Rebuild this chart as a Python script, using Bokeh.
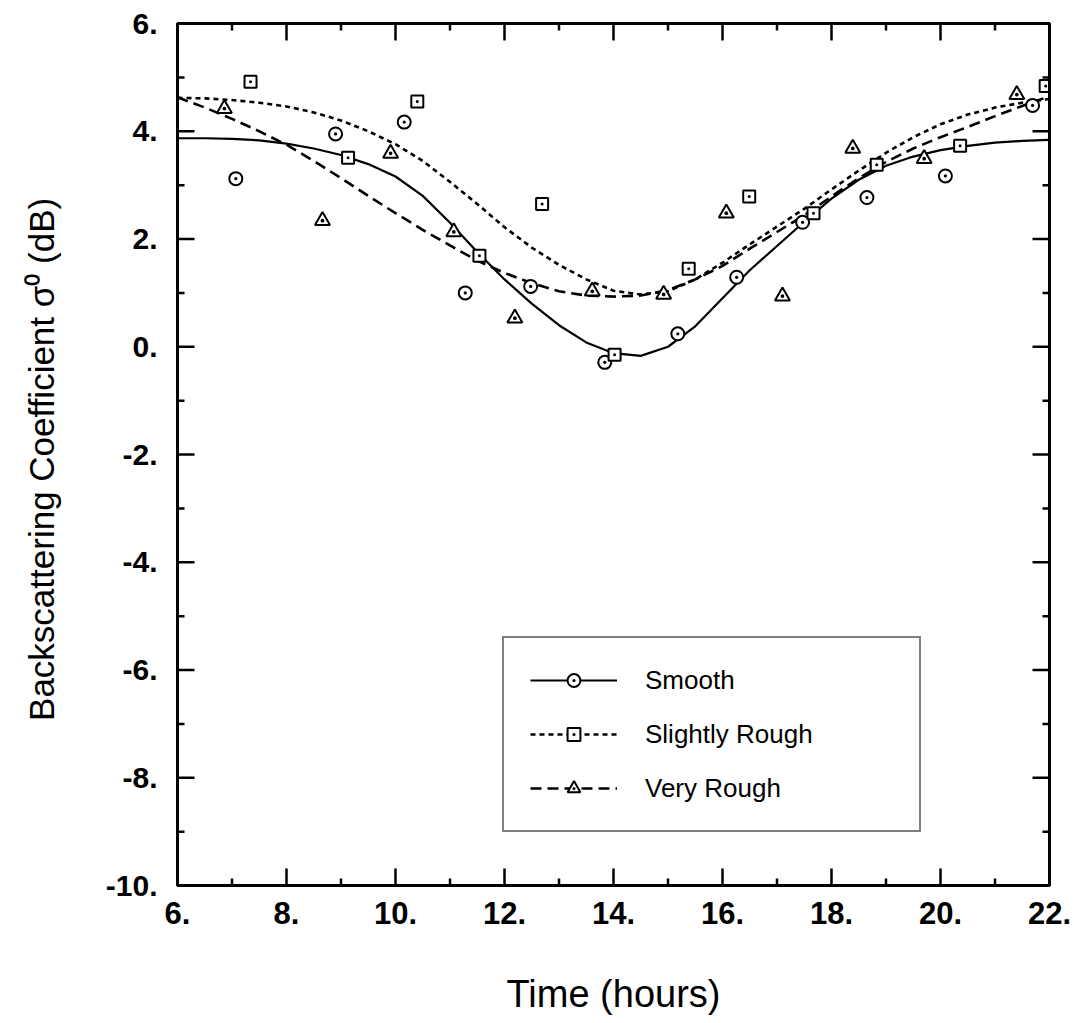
from bokeh.plotting import figure
from bokeh.models import (Range1d, FixedTicker, LinearAxis, Legend, LegendItem,
                          PrintfTickFormatter, CustomJSTickFormatter)
from bokeh.embed import file_html
from bokeh.resources import INLINE

# ---------------- data ----------------
x_ticks = [6, 8, 10, 12, 14, 16, 18, 20, 22]
x_minor = [7, 9, 11, 13, 15, 17, 19, 21]
y_ticks = [-10, -8, -6, -4, -2, 0, 2, 4, 6]
y_minor = [-9, -7, -5, -3, -1, 1, 3, 5]

smooth_x = [7.07, 8.90, 10.16, 11.28, 12.48, 13.84, 15.18, 16.26, 17.47, 18.65, 20.09, 21.69]
smooth_y = [3.12, 3.95, 4.17, 1.00, 1.12, -0.29, 0.24, 1.29, 2.31, 2.77, 3.17, 4.48]

slight_x = [7.34, 9.13, 10.40, 11.54, 12.69, 14.02, 15.38, 16.49, 17.67, 18.83, 20.36, 21.93]
slight_y = [4.92, 3.51, 4.55, 1.69, 2.65, -0.15, 1.45, 2.79, 2.48, 3.38, 3.73, 4.84]

very_x = [6.86, 8.66, 9.91, 11.07, 12.19, 13.61, 14.92, 16.07, 17.10, 18.39, 19.70, 21.40]
very_y = [4.42, 2.34, 3.59, 2.13, 0.53, 1.03, 0.97, 2.48, 0.94, 3.68, 3.49, 4.68]

smooth_fit_x = [6, 6.5, 7, 7.5, 8, 8.5, 9, 9.5, 10, 10.5, 11, 11.5, 12, 12.5, 13, 13.5, 14,
                14.5, 15, 15.5, 16, 16.5, 17, 17.5, 18, 18.5, 19, 19.5, 20, 20.5, 21, 21.5, 22]
smooth_fit_y = [3.87, 3.87, 3.86, 3.83, 3.77, 3.68, 3.56, 3.39, 3.16, 2.80, 2.30, 1.76, 1.25,
                0.80, 0.40, 0.08, -0.12, -0.17, 0.00, 0.38, 0.90, 1.42, 1.87, 2.32, 2.75,
                3.10, 3.36, 3.53, 3.65, 3.73, 3.79, 3.82, 3.84]

slight_fit_x = [6, 6.5, 7, 7.5, 8, 8.5, 9, 9.5, 10, 10.5, 11, 11.5, 12, 12.5, 13, 13.5, 14,
                14.5, 15, 15.5, 16, 16.5, 17, 17.5, 18, 18.5, 19, 19.5, 20, 20.5, 21, 21.5, 22]
slight_fit_y = [4.62, 4.61, 4.58, 4.53, 4.46, 4.35, 4.20, 4.00, 3.76, 3.45, 3.06, 2.65, 2.22,
                1.84, 1.52, 1.25, 1.04, 0.97, 1.03, 1.25, 1.56, 1.90, 2.23, 2.56, 2.92, 3.27,
                3.60, 3.89, 4.13, 4.31, 4.44, 4.53, 4.60]

very_fit_x = [6, 6.5, 7, 7.5, 8, 8.5, 9, 9.5, 10, 10.5, 11, 11.5, 12, 12.5, 13, 13.5, 14,
              14.5, 15, 15.5, 16, 16.5, 17, 17.5, 18, 18.5, 19, 19.5, 20, 20.5, 21, 21.5, 22]
very_fit_y = [4.63, 4.44, 4.23, 4.00, 3.75, 3.45, 3.13, 2.80, 2.48, 2.17, 1.88, 1.60, 1.37,
              1.18, 1.03, 0.95, 0.93, 0.95, 1.05, 1.25, 1.50, 1.82, 2.13, 2.44, 2.79, 3.13,
              3.43, 3.68, 3.89, 4.08, 4.28, 4.47, 4.65]

labels = ["Smooth", "Slightly Rough", "Very Rough"]

# ---------------- figure ----------------
W, H = 1074, 1023
BL, BR, BT, BB = 177, 25, 23, 138
p = figure(width=W, height=H, output_backend="svg", toolbar_location=None,
           x_range=Range1d(x_ticks[0], x_ticks[-1]), y_range=Range1d(y_ticks[0], y_ticks[-1]),
           min_border_left=BL, min_border_right=BR, min_border_top=BT,
           min_border_bottom=BB, background_fill_color="white",
           border_fill_color="white")
p.xgrid.visible = False
p.ygrid.visible = False
p.outline_line_color = "black"
p.outline_line_width = 3

FONT = "Liberation Sans"


def style_axis(ax, major, minor):
    ax.ticker = FixedTicker(ticks=major, minor_ticks=minor)
    ax.axis_line_width = 3
    ax.axis_line_color = "black"
    ax.major_tick_line_color = None
    ax.minor_tick_line_color = None
    ax.major_tick_in = 0
    ax.minor_tick_in = 0
    ax.major_tick_out = 0
    ax.minor_tick_out = 0
    ax.major_label_text_font = FONT
    ax.major_label_text_font_style = "bold"
    ax.major_label_text_color = "black"
    ax.axis_label_text_font = FONT
    ax.axis_label_text_font_style = "normal"
    ax.axis_label_text_color = "black"


xa = p.xaxis[0]
style_axis(xa, x_ticks, x_minor)
xa.formatter = PrintfTickFormatter(format="%d.")
xa.major_label_text_font_size = "31px"
xa.major_label_standoff = 16
xa.axis_label = "Time (hours)"
xa.axis_label_text_font_size = "38px"
xa.axis_label_standoff = 46

ya = p.yaxis[0]
style_axis(ya, y_ticks, y_minor)
ya.formatter = PrintfTickFormatter(format="%d.")
ya.major_label_text_font_size = "30px"
ya.major_label_standoff = 20
ya.axis_label = "Backscattering Coefficient  σ⁰ (dB)"
ya.axis_label_text_font_size = "35px"
ya.axis_label_standoff = 42

blank = CustomJSTickFormatter(code="return ''")
top = LinearAxis(formatter=blank)
style_axis(top, x_ticks, x_minor)
top.major_label_standoff = 0
top.major_label_text_font_size = "1px"
p.add_layout(top, "above")
right = LinearAxis(formatter=blank)
style_axis(right, y_ticks, y_minor)
right.major_label_standoff = 0
right.major_label_text_font_size = "1px"
p.add_layout(right, "right")

# ---------------- inward tick marks: filled bars whose centres lie inside the frame ----------------
x_lo, x_hi = x_ticks[0], x_ticks[-1]
y_lo, y_hi = y_ticks[0], y_ticks[-1]
ux = (x_hi - x_lo) / (W - BL - BR)   # data units per pixel
uy = (y_hi - y_lo) / (H - BT - BB)
TW = 2.5


def vbars(xs, length):
    for yy, sgn in ((y_lo, 1), (y_hi, -1)):
        cy = yy + sgn * (length / 2 + 1) * uy
        p.rect(xs, [cy] * len(xs), width=TW, height=length + 2, width_units="screen",
               height_units="screen", fill_color="black", line_color=None)


def hbars(ys, length):
    for xx, sgn in ((x_lo, 1), (x_hi, -1)):
        cx = xx + sgn * (length / 2 + 1) * ux
        p.rect([cx] * len(ys), ys, width=length + 2, height=TW, width_units="screen",
               height_units="screen", fill_color="black", line_color=None)


vbars(x_ticks[1:-1], 15)
vbars(x_minor, 5)
hbars(y_ticks[1:-1], 15)
hbars(y_minor, 5)

# ---------------- glyphs ----------------
l1 = p.line(smooth_fit_x, smooth_fit_y, line_color="black", line_width=2.2)
l2 = p.line(slight_fit_x, slight_fit_y, line_color="black", line_width=2.6, line_dash="5 4")
l3 = p.line(very_fit_x, very_fit_y, line_color="black", line_width=2.6, line_dash="11 6")

s1 = p.scatter(smooth_x, smooth_y, marker="circle_dot", size=13, fill_color="white",
               line_color="black", line_width=2)
s2 = p.scatter(slight_x, slight_y, marker="square_dot", size=12, fill_color="white",
               line_color="black", line_width=2)
s3 = p.scatter(very_x, very_y, marker="triangle_dot", size=15, fill_color="white",
               line_color="black", line_width=2)

legend = Legend(items=[LegendItem(label=labels[0], renderers=[l1, s1]),
                       LegendItem(label=labels[1], renderers=[l2, s2]),
                       LegendItem(label=labels[2], renderers=[l3, s3])],
                location=(325, 53), orientation="vertical",
                glyph_width=87, glyph_height=32, label_height=32,
                label_standoff=28, label_width=248, spacing=22, padding=26, margin=0,
                border_line_color="black", border_line_width=2,
                background_fill_color="white", background_fill_alpha=1,
                label_text_font=FONT, label_text_font_size="26px",
                label_text_color="black")
p.add_layout(legend, "center")

open("out.html", "w").write(file_html(p, INLINE))
